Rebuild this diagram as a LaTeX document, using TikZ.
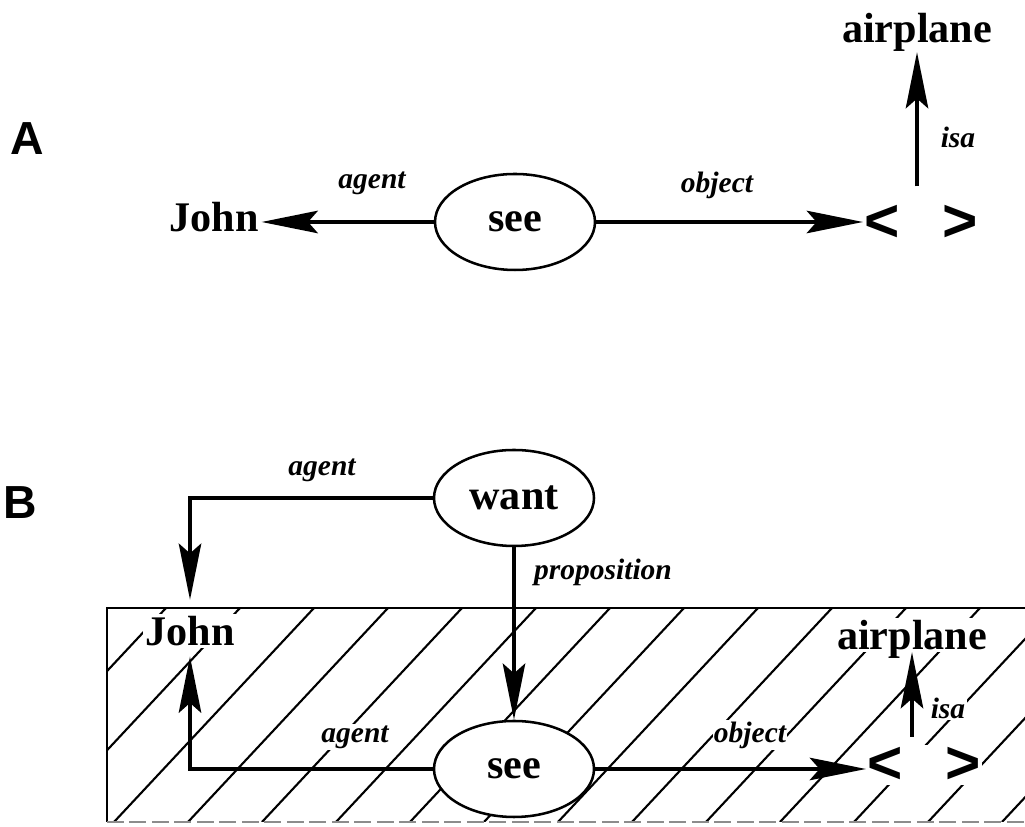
\documentclass[tikz,border=0pt]{standalone}
\usepackage{fontspec}
\setmainfont{Liberation Serif}
\newfontfamily\panelfont{Liberation Sans}
\usetikzlibrary{shapes.geometric, arrows.meta, positioning, calc}

\newcommand{\conceptfont}{\fontsize{30}{36}\selectfont\bfseries}
\newcommand{\rolefont}{\fontsize{21}{25}\selectfont\bfseries\itshape}
\newcommand{\slotfont}{\panelfont\fontsize{43}{48}\selectfont\bfseries}

\begin{document}
\begin{tikzpicture}[
  concept/.style={ellipse, draw, line width=1.8pt, fill=white, minimum width=4cm, minimum height=2.4cm, inner sep=0pt, font=\conceptfont},
  word/.style={font=\conceptfont, text height=20pt, text depth=0pt, inner sep=2pt, fill=white},
  role/.style={font=\rolefont, inner sep=1pt, fill=white},
  slot/.style={font=\slotfont, inner sep=1pt, fill=white},
  panel/.style={font=\panelfont\fontsize{33}{38}\selectfont\bfseries},
  link/.style={line width=2.4pt, -{Stealth[length=40pt, width=16pt, inset=7pt]}},
  hatch/.style={line width=1.5pt},
]
\useasboundingbox (0,0) rectangle (25.625,20.675);

\node[panel] (labA) at (0.675,17.2) {A};
\node[panel] (labB) at (0.5,8.1) {B};

% A: see with agent and object
\node[concept] (seeA) at (12.875,15.125) {see};
\node[word] (johnA) at (5.35,15.25) {John};
\node[slot] (slotA) at (23.025,15.1) {<\hspace{30pt}>};
\node[word] (airA) at (22.925,19.975) {airplane};
\node[role] (agA) at (9.3,16.1) {agent};
\node[role] (objA) at (17.925,16.05) {object};
\node[role] (isaA) at (23.95,17.25) {isa};

\draw[link] (seeA.west) -- (seeA.west -| johnA.east);
\draw[link] (seeA.east) -- (seeA.east -| slotA.west);
\draw[link, shorten >=5pt] ($(airA.south |- slotA.north)+(0,12pt)$) -- (airA.south);

% B: the shaded context
\begin{scope}
  \clip (2.675,0.125) rectangle (25.7,5.475);
  \foreach \k in {-5,...,9}
    \draw[hatch] ({13.4+1.85*\k-5.0},0.125) -- ({13.4+1.85*\k},5.475);
\end{scope}
\draw[line width=1.8pt] (2.675,0.125) -- (2.675,5.475) -- (25.7,5.475);
\draw[line width=1pt, black!45, dash pattern=on 12pt off 4pt] (2.675,0.125) -- (25.7,0.125);

\node[concept] (wantB) at (12.85,8.225) {want};
\node[concept] (seeB) at (12.85,1.45) {see};
\node[word] (johnB) at (4.75,4.9) {John};
\node[word] (airB) at (22.8,4.8) {airplane};
\node[slot] (slotB) at (23.1,1.55) {<\hspace{30pt}>};
\node[role] (agB1) at (8.05,8.925) {agent};
\node[role] (propB) at (15.075,6.375) {proposition};
\node[role] (agB2) at (8.875,2.25) {agent};
\node[role] (objB) at (18.75,2.3) {object};
\node[role] (isaB) at (23.7,2.975) {isa};

\draw[link] (wantB.west) -| ([yshift=10pt]johnB.north);
\draw[link] (wantB.south) -- (seeB.north);
\draw[link] (seeB.west) -| ([yshift=-6pt]johnB.south);
\draw[link] (seeB.east) -- (seeB.east -| slotB.west);
\draw[link] ($(airB.south |- slotB.north)+(0,6pt)$) -- (airB.south);
\end{tikzpicture}
\end{document}
